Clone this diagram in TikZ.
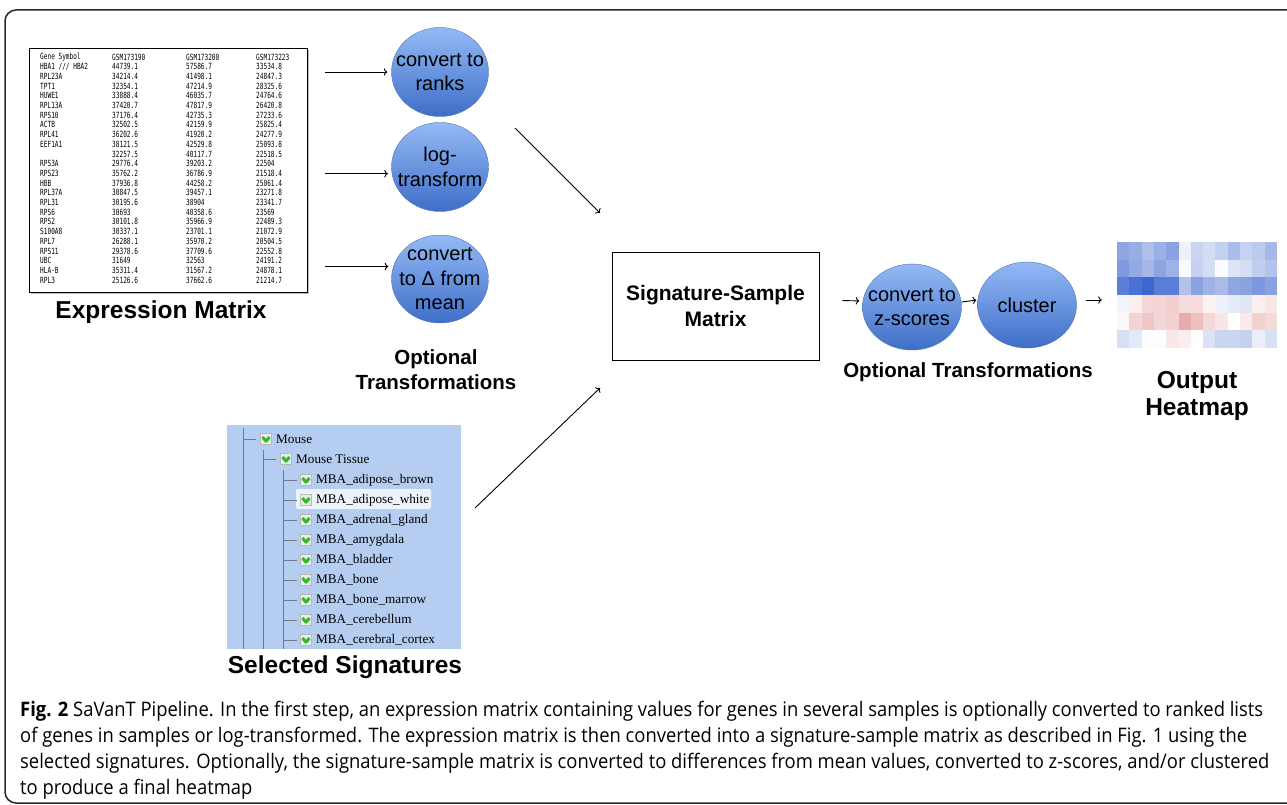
\documentclass[tikz,border=0pt]{standalone}
\usepackage{fontspec}
\setmainfont{Liberation Sans}
\newfontfamily\capfont[FakeStretch=0.92]{Open Sans}
\newfontfamily\treefont{Liberation Serif}
\newfontfamily\tabfont[FakeStretch=0.72]{DejaVu Sans Mono}
\usepackage{tikz}
\usetikzlibrary{arrows.meta}
\usetikzlibrary{shapes.geometric,positioning}
\definecolor{circtop}{RGB}{148,186,245}
\definecolor{circbot}{RGB}{62,110,200}
\definecolor{circline}{RGB}{80,115,180}
\definecolor{treebg}{RGB}{180,205,240}
\definecolor{treeline}{RGB}{110,120,135}
\definecolor{checkgreen}{RGB}{50,185,40}

\begin{document}
\begin{tikzpicture}[x=1pt, y=-1pt, >=To,
  trans/.style={ellipse, draw=circline, top color=circtop, bottom color=circbot,
    minimum width=97pt, minimum height=89pt, inner sep=0pt},
  transtxt/.style={align=center, inner sep=0pt, font=\fontsize{20}{24.5}\selectfont},
  biglabel/.style={font=\fontsize{24.5}{27}\selectfont\bfseries, align=center},
  optlabel/.style={font=\fontsize{20.5}{25}\selectfont\bfseries, align=center},
  flow/.style={->, line width=0.9pt},
  tabtxt/.style={anchor=west, inner sep=0pt, font=\tabfont\fontsize{8.5}{9}\selectfont},
  treetxt/.style={anchor=west, inner sep=0pt, font=\treefont\fontsize{13.2}{14}\selectfont},
  capline/.style={anchor=base west, inner sep=0pt, font=\capfont\fontsize{20}{24}\selectfont},
  tickbox/.pic={
    \filldraw[draw=gray!55, fill=gray!15] (-5.5,-5.5) rectangle (5.5,5.5);
    \draw[checkgreen, line width=3pt, line join=round] (-3.5,-2) -- (0,2.2) -- (3.5,-2);
  }]
\useasboundingbox (0,0) rectangle (1287,805);
\clip (0,0) rectangle (1287,805);
\draw[line width=1.5pt, rounded corners=11pt, black!85] (5,10) rectangle (1320,803);

% expression matrix
\fill[gray!55] (31,50) rectangle (309,294);
\node[draw, fill=white, line width=0.6pt, minimum width=278pt, minimum height=244pt, inner sep=0pt] (exprmat) at (168,170) {};
\foreach \g/\a/\b/\c [count=\i from 0] in {
  Gene Symbol/GSM173190/GSM173200/GSM173223,
  {HBA1 /// HBA2}/44739.1/57586.7/33534.8,
  RPL23A/34214.4/41498.1/24847.3,
  TPT1/32354.1/47214.9/28325.6,
  HUWE1/33888.4/46035.7/24764.6,
  RPL13A/37420.7/47817.9/26420.8,
  RPS10/37176.4/42735.3/27233.6,
  ACTB/32502.5/42159.9/25825.4,
  RPL41/36202.6/41920.2/24277.9,
  EEF1A1/38121.5/42529.8/25093.8,
  {}/32257.5/40117.7/22518.5,
  RPS3A/29776.4/39203.2/22504,
  RPS23/35762.2/36786.9/21518.4,
  HBB/37936.8/44258.2/25061.4,
  RPL37A/30847.5/39457.1/23271.8,
  RPL31/30195.6/38904/23341.7,
  RPS6/30693/40358.6/23569,
  RPS2/30101.8/35966.9/22489.3,
  S100A8/30337.1/23701.1/21072.9,
  RPL7/26288.1/35970.2/20504.5,
  RPS11/29378.6/37709.6/22552.8,
  UBC/31649/32563/24191.2,
  HLA-B/35311.4/31567.2/24878.1,
  RPL3/25126.6/37662.6/21214.7}{
  \node[tabtxt] (g\i) at (40,57+9.7*\i) {\g};
  \node[tabtxt] (a\i) at (112,57+9.7*\i) {\a};
  \node[tabtxt] (b\i) at (186,57+9.7*\i) {\b};
  \node[tabtxt] (c\i) at (256,57+9.7*\i) {\c};
}
\node[biglabel] (exprlabel) at (161,312) {Expression Matrix};

% first transformations
\node[trans, label={[transtxt]center:convert to\\ranks}] (ranks) at (440,72) {};
\node[trans, label={[transtxt]center:log-\\transform}] (logt) at (440,167) {};
\node[trans, minimum height=88pt, label={[transtxt]center:convert\\to Δ from\\mean}] (delta) at (440,279) {};
\draw[flow, shorten <=18pt, shorten >=4pt] (exprmat.east |- ranks.west) -- (ranks.west);
\draw[flow, shorten <=18pt, shorten >=4pt] (exprmat.east |- logt.188) -- (logt.188);
\draw[flow, shorten <=18pt, shorten >=5pt] (exprmat.east |- delta.165) -- (delta.165);
\node[optlabel] (opt1) at (436,370) {Optional\\Transformations};

% signature-sample matrix
\node[draw, line width=0.8pt, minimum width=207pt, minimum height=108pt, align=center,
  font=\fontsize{21}{26}\selectfont\bfseries] (ssm) at (715.5,306) {Signature-Sample\\Matrix};
\path (515,128) coordinate (fromtop)
      (600,213) coordinate (totop)
      (475,508) coordinate (fromsig)
      (600,388) coordinate (tosig);
\draw[flow] (fromtop) -- (totop);
\draw[flow] (fromsig) -- (tosig);

% selected signatures
\fill[treebg] (227,425) rectangle (461,649);
\fill[white!75!treebg, rounded corners=2pt] (296,489) rectangle (431,509);
\draw[treeline] (243,428) -- (243,649) (243,439) -- (256,439);
\draw[treeline] (263,450) -- (263,649) (263,459) -- (276,459);
\draw[treeline] (283,470) -- (283,649);
\pic at (266,439) {tickbox};
\node[treetxt] (mouse) at (276,439) {Mouse};
\pic at (286,459) {tickbox};
\node[treetxt] (tissue) at (296,459) {Mouse Tissue};
\foreach \s [count=\i from 0] in {MBA\_adipose\_brown, MBA\_adipose\_white,
  MBA\_adrenal\_gland, MBA\_amygdala, MBA\_bladder, MBA\_bone,
  MBA\_bone\_marrow, MBA\_cerebellum, MBA\_cerebral\_cortex}{
  \draw[treeline] (283,480+20*\i) -- (297,480+20*\i);
  \pic at (306,480+20*\i) {tickbox};
  \node[treetxt] (sig\i) at (316,480+20*\i) {\s};
}
\node[biglabel] (sellabel) at (345,667) {Selected Signatures};

% second transformations
\node[trans, minimum width=99pt, minimum height=86pt, label={[transtxt]center:convert to\\z-scores}] (zscore) at (912,307) {};
\node[trans, minimum width=99pt, minimum height=86pt, label={[transtxt]center:cluster}] (cluster) at (1027,305) {};
\draw[flow, shorten <=23pt, shorten >=3pt] ([yshift=6pt]ssm.east) -- ([yshift=6pt]zscore.west);
\draw[flow, shorten >=1pt] ([yshift=5pt]zscore.east) -- ([yshift=5pt]cluster.west);
\node[optlabel] (opt2) at (968,372) {Optional Transformations};

% heatmap
\node[minimum width=160pt, minimum height=106pt, inner sep=0pt] (heatmap) at (1197,295) {};
\foreach \row [count=\r] in {
  {8FA6E0,98ADE3,AFBFE9,9BB0E5,8AA2E2,EEF1FB,C9D4F2,D3DCF3,C4D0F0,AABCEA,C6D2F1,BCCAEE,A6B8E8},
  {809ADE,93A9E3,A5B6E7,8EA4E1,9FB2E6,FAFBFE,C5D1F1,D5DDF4,FBFCFF,DDE4F6,D6DEF4,BFCDEF,B3C3EC},
  {5B7FD8,4A71D5,3D66D2,5A7DD8,5B7ED8,B2C2EB,89A2E2,A0B3E6,AABBE9,8FA6E1,8AA2E0,7D98DE,89A1E0},
  {F3F5FC,FBEEEE,F4D6D6,F3D5D5,F2CFCF,F7DEDE,F6DCDC,FCF2F2,EEF1FB,E6EBF8,E1E7F7,FBF0EF,F9E6E5},
  {FDF7F7,F3D3D3,EFC7C7,F3D6D6,F2D2D2,E7ADAC,EDC0C0,F5D9D9,F8E6E5,FFFFFF,FAE9E9,F2D1D1,F5DADA},
  {D8E0F5,E3E9F8,FDFDFF,FDFCFF,F8E8E8,FBEEEE,FEFEFE,DBE2F5,CAD5F1,CBD5F1,C6D1F1,EAEEFA,D8E0F5}}{
  \foreach \hc [count=\k] in \row {
    \definecolor{hm}{HTML}{\hc}
    \fill[hm] (1117+12.3*\k-12.3,242+17.67*\r-17.67) rectangle (1117+12.3*\k,242+17.67*\r);
  }
}
\draw[flow, shorten <=9pt, shorten >=15pt] ([yshift=5pt]cluster.east) -- ([yshift=5pt]cluster.east -| heatmap.west);
\node[biglabel] (outlabel) at (1197,396) {Output\\Heatmap};

% caption
\node[capline] (cap1) at (20,716) {{\bfseries Fig. 2} SaVanT Pipeline. In the first step, an expression matrix containing values for genes in several samples is optionally converted to ranked lists};
\node[capline] (cap2) at (20,742) {of genes in samples or log-transformed. The expression matrix is then converted into a signature-sample matrix as described in Fig. 1 using the};
\node[capline] (cap3) at (20,768) {selected signatures. Optionally, the signature-sample matrix is converted to differences from mean values, converted to z-scores, and/or clustered};
\node[capline] (cap4) at (20,794) {to produce a final heatmap};
\end{tikzpicture}
\end{document}
